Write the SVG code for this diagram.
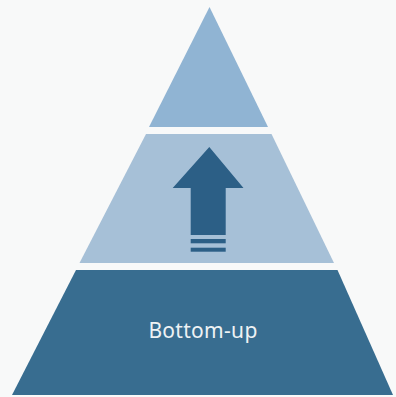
<svg xmlns="http://www.w3.org/2000/svg" width="396" height="397" viewBox="0 0 396 397">
  <style>
    .top { fill: #90b4d3; }
    .mid { fill: #a6c0d7; }
    .bot { fill: #386d90; }
    .arrow { fill: #2c5f86; }
    .label { font-family: "Noto Sans", "Open Sans", sans-serif; font-size: 21px; fill: #eef2f4; text-anchor: middle; letter-spacing: 0.3px; }
  </style>
  <rect x="0" y="0" width="396" height="397" fill="#f8f9f9"/>
  <g id="layer-top">
    <polygon class="top" points="209.5,7 268,127 149,127"/>
  </g>
  <g id="layer-middle">
    <polygon class="mid" points="146,134 271.5,134 334,263 79.5,263"/>
    <g id="arrow">
      <polygon class="arrow" points="209.3,147 243.5,188 225.7,188 225.7,235 190.7,235 190.7,188 172.7,188"/>
      <rect class="arrow" x="190.7" y="239" width="35" height="4.3"/>
      <rect class="arrow" x="190.7" y="247.7" width="35" height="4"/>
    </g>
  </g>
  <g id="layer-bottom">
    <polygon class="bot" points="76,270 337.5,270 393,395 12,395"/>
    <text class="label" x="203" y="338">Bottom-up</text>
  </g>
  <g id="connectors"/>
</svg>
